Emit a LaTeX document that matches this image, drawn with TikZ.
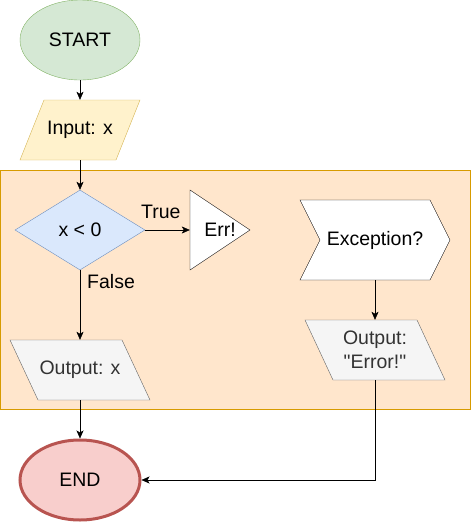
\documentclass[tikz,border=0pt]{standalone}
\usepackage{fontspec}
\setmainfont{Liberation Sans}[Ligatures=TeXOff]
\usepackage{tikz}
\usetikzlibrary{shapes.geometric,arrows.meta}

\definecolor{startfill}{HTML}{D5E8D4}
\definecolor{startline}{HTML}{82B366}
\definecolor{infill}{HTML}{FFF2CC}
\definecolor{inline}{HTML}{D6B656}
\definecolor{groupfill}{HTML}{FFE6CC}
\definecolor{groupline}{HTML}{D79B00}
\definecolor{testfill}{HTML}{DAE8FC}
\definecolor{testline}{HTML}{6C8EBF}
\definecolor{outfill}{HTML}{F5F5F5}
\definecolor{outline}{HTML}{666666}
\definecolor{outtext}{HTML}{333333}
\definecolor{endfill}{HTML}{F8CECC}
\definecolor{endline}{HTML}{B85450}

\begin{document}
\begin{tikzpicture}[x=1pt, y=-1pt, >={Stealth[length=8pt,width=7pt,inset=2pt]},
    font=\fontsize{19.5}{23.5}\selectfont,
    txt/.style={inner sep=0pt, align=center, text=black},
    outbox/.style={draw=outline, fill=outfill}]
    \useasboundingbox (0,0) rectangle (471,523);
    \draw[draw=groupline, fill=groupfill] (0.5,170.5) rectangle (470.5,409.5);

    \node[txt, ellipse, draw=startline, fill=startfill, minimum width=120pt, minimum height=80pt] (start) at (80,40) {START};

    \draw[draw=inline, fill=infill] (44,100) -- (140,100) -- (116,160) -- (20,160) -- cycle;
    \node[txt, minimum width=120pt, minimum height=60pt] (input) at (80,130) {Input: x};

    \node[txt, diamond, aspect=1.625, draw=testline, fill=testfill, minimum width=130pt, minimum height=80pt] (test) at (80,230) {x < 0};

    \draw[fill=white] (190,190) -- (250,230) -- (190,270) -- cycle;
    \node[txt, minimum width=60pt, minimum height=80pt] (err) at (220,230) {Err!};

    \draw[outbox] (10,340) -- (122,340) -- (150,400) -- (38,400) -- cycle;
    \node[txt, text=outtext, minimum width=140pt, minimum height=60pt] (outx) at (80,370) {Output: x};

    \draw[fill=white] (300,200) -- (430,200) -- (450,240) -- (430,280) -- (300,280) -- (320,240) -- cycle;
    \node[txt, minimum width=150pt, minimum height=80pt] (exc) at (375,240) {Exception?};

    \draw[outbox] (305,320) -- (417,320) -- (445,380) -- (333,380) -- cycle;
    \node[txt, text=outtext, minimum width=140pt, minimum height=60pt] (oute) at (375,350) {Output:\\"Error!"};

    \node[txt, ellipse, draw=endline, fill=endfill, line width=3pt, minimum width=120pt, minimum height=80pt] (end) at (80,480) {END};

    \draw[->] (start.south) -- (input.north);
    \draw[->] (input.south) -- (test.north);
    \draw[->] (test.east) -- (err.west) node[txt, pos=0.35, above=11pt, anchor=south] (lbltrue) {True};
    \draw[->] (test.south) -- (outx.north) node[txt, pos=0.16, anchor=west, xshift=7pt] (lblfalse) {False};
    \draw[->] (outx.south) -- (end.north);
    \draw[->] (exc.south) -- (oute.north);
    \draw[->] (oute.south) |- (end.east);
\end{tikzpicture}
\end{document}
